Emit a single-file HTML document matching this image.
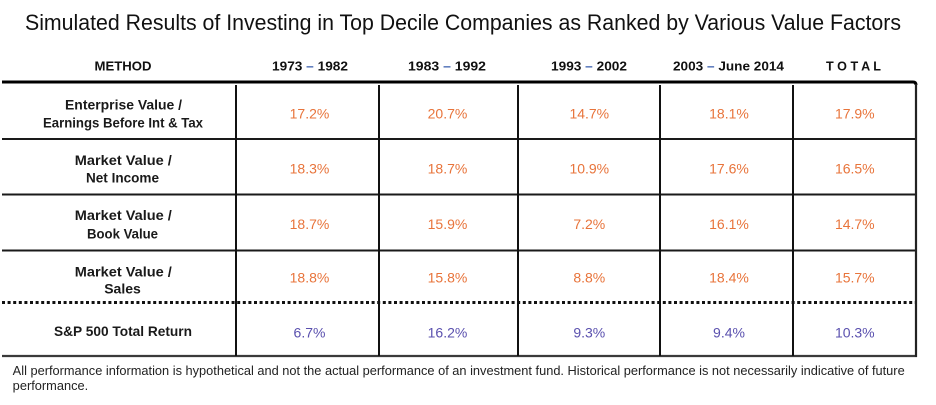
<!DOCTYPE html>
<html>
<head>
<meta charset="utf-8">
<style>
  html, body { margin: 0; padding: 0; background: #ffffff; }
  body { width: 936px; height: 405px; overflow: hidden; }
  svg { display: block; }
  .t { font-family: "Liberation Sans", Arial, sans-serif; }
  .title { font-size: 22px; fill: #111; }
  .hd { font-size: 13px; font-weight: bold; fill: #111; }
  .lb { font-size: 14px; font-weight: bold; fill: #1a1a1a; }
  .or { font-size: 14px; fill: #E8743B; }
  .bl { font-size: 14px; fill: #5A50AE; }
  .fn { font-size: 12.5px; fill: #222; }
  .dash { fill: #3F63B0; }
</style>
</head>
<body>
<svg width="936" height="405" viewBox="0 0 936 405" xmlns="http://www.w3.org/2000/svg">
  <!-- Title -->
  <text class="t title" x="25" y="30" textLength="876" lengthAdjust="spacingAndGlyphs">Simulated Results of Investing in Top Decile Companies as Ranked by Various Value Factors</text>

  <!-- Header -->
  <text class="t hd" x="123" y="70.5" text-anchor="middle" textLength="57" lengthAdjust="spacingAndGlyphs">METHOD</text>
  <text class="t hd" x="272" y="70.5" textLength="76" lengthAdjust="spacingAndGlyphs">1973 <tspan class="dash">–</tspan> 1982</text>
  <text class="t hd" x="408" y="70.5" textLength="78" lengthAdjust="spacingAndGlyphs">1983 <tspan class="dash">–</tspan> 1992</text>
  <text class="t hd" x="551" y="70.5" textLength="76" lengthAdjust="spacingAndGlyphs">1993 <tspan class="dash">–</tspan> 2002</text>
  <text class="t hd" x="673" y="70.5" textLength="111" lengthAdjust="spacingAndGlyphs">2003 <tspan class="dash">–</tspan> June 2014</text>
  <text class="t hd" x="826" y="70.5" textLength="55" lengthAdjust="spacingAndGlyphs">T O T A L</text>

  <!-- Grid lines -->
  <path d="M2 82 H913 Q916 82 916 85" fill="none" stroke="#000" stroke-width="3"/>
  <line x1="2" y1="139" x2="916" y2="139" stroke="#1a1a1a" stroke-width="2"/>
  <line x1="2" y1="194.5" x2="916" y2="194.5" stroke="#1a1a1a" stroke-width="2"/>
  <line x1="2" y1="250.5" x2="916" y2="250.5" stroke="#1a1a1a" stroke-width="2"/>
  <line x1="2" y1="302.5" x2="916" y2="302.5" stroke="#111" stroke-width="3" stroke-dasharray="3 2.6"/>
  <line x1="2" y1="356" x2="917" y2="356" stroke="#3a3a3a" stroke-width="2.2"/>

  <line x1="236" y1="85" x2="236" y2="356" stroke="#111" stroke-width="2"/>
  <line x1="379" y1="85" x2="379" y2="356" stroke="#111" stroke-width="2"/>
  <line x1="518" y1="85" x2="518" y2="356" stroke="#111" stroke-width="2"/>
  <line x1="660" y1="85" x2="660" y2="356" stroke="#111" stroke-width="2"/>
  <line x1="793" y1="85" x2="793" y2="356" stroke="#111" stroke-width="2"/>
  <line x1="916" y1="84" x2="916" y2="357" stroke="#222" stroke-width="2.2"/>

  <!-- Row labels -->
  <text class="t lb" x="123.5" y="109.3" text-anchor="middle" textLength="117" lengthAdjust="spacingAndGlyphs">Enterprise Value /</text>
  <text class="t lb" x="123" y="127.3" text-anchor="middle" textLength="160" lengthAdjust="spacingAndGlyphs">Earnings Before Int &amp; Tax</text>

  <text class="t lb" x="123.3" y="165" text-anchor="middle" textLength="97" lengthAdjust="spacingAndGlyphs">Market Value /</text>
  <text class="t lb" x="122.5" y="182.7" text-anchor="middle" textLength="73" lengthAdjust="spacingAndGlyphs">Net Income</text>

  <text class="t lb" x="123.3" y="220" text-anchor="middle" textLength="97" lengthAdjust="spacingAndGlyphs">Market Value /</text>
  <text class="t lb" x="122.5" y="238.3" text-anchor="middle" textLength="71" lengthAdjust="spacingAndGlyphs">Book Value</text>

  <text class="t lb" x="123.3" y="276.7" text-anchor="middle" textLength="97" lengthAdjust="spacingAndGlyphs">Market Value /</text>
  <text class="t lb" x="122.5" y="293.3" text-anchor="middle">Sales</text>

  <text class="t lb" x="123" y="336" text-anchor="middle" textLength="138" lengthAdjust="spacingAndGlyphs">S&amp;P 500 Total Return</text>

  <!-- Row 1 -->
  <g class="t or" text-anchor="middle">
    <text x="309.5" y="118.3">17.2%</text>
    <text x="447.5" y="118.3">20.7%</text>
    <text x="589.3" y="118.3">14.7%</text>
    <text x="729" y="118.3">18.1%</text>
    <text x="854.8" y="118.3">17.9%</text>

    <text x="309.5" y="173.3">18.3%</text>
    <text x="447.5" y="173.3">18.7%</text>
    <text x="589.3" y="173.3">10.9%</text>
    <text x="729" y="173.3">17.6%</text>
    <text x="854.8" y="173.3">16.5%</text>

    <text x="309.5" y="229">18.7%</text>
    <text x="447.5" y="229">15.9%</text>
    <text x="589.3" y="229">7.2%</text>
    <text x="729" y="229">16.1%</text>
    <text x="854.8" y="229">14.7%</text>

    <text x="309.5" y="282.3">18.8%</text>
    <text x="447.5" y="282.3">15.8%</text>
    <text x="589.3" y="282.3">8.8%</text>
    <text x="729" y="282.3">18.4%</text>
    <text x="854.8" y="282.3">15.7%</text>
  </g>

  <g class="t bl" text-anchor="middle">
    <text x="309.5" y="337.3">6.7%</text>
    <text x="447.5" y="337.3">16.2%</text>
    <text x="589.3" y="337.3">9.3%</text>
    <text x="729" y="337.3">9.4%</text>
    <text x="854.8" y="337.3">10.3%</text>
  </g>

  <!-- Footnote -->
  <text class="t fn" x="12.7" y="375" textLength="892" lengthAdjust="spacingAndGlyphs">All performance information is hypothetical and not the actual performance of an investment fund. Historical performance is not necessarily indicative of future</text>
  <text class="t fn" x="12.7" y="390" textLength="75.5" lengthAdjust="spacingAndGlyphs">performance.</text>
</svg>
</body>
</html>
